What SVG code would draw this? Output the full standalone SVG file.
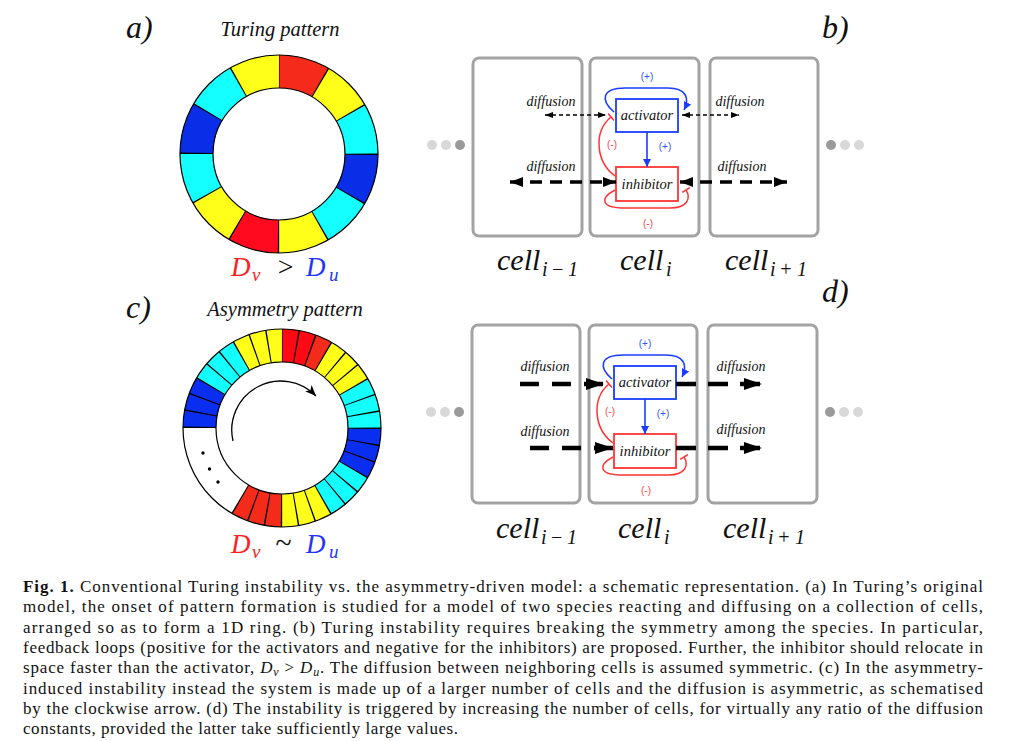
<svg xmlns="http://www.w3.org/2000/svg" width="1024" height="741" viewBox="0 0 1024 741">
<style>
.it{font-family:"Liberation Serif",serif;font-style:italic;fill:#111}
.pl{font-size:32px}
.ttl{font-size:20.5px;text-anchor:middle}
.seg{fill:none;stroke-width:33}
.ol{fill:none;stroke:#000;stroke-width:1.2}
.cellbox{fill:#fff;stroke:#a3a3a3;stroke-width:3}
.act{fill:#fff;stroke:#1a3cff;stroke-width:1.8}
.inh{fill:#fff;stroke:#ff3535;stroke-width:1.8}
.box{font-size:14.5px;text-anchor:middle}
.diff{font-size:14px;text-anchor:middle}
.cell{font-size:30px}
.sub{font-size:20px}
.sg{font-family:"Liberation Sans",sans-serif;font-size:10px;text-anchor:middle}
.sp{fill:#3355ff}
.sm{fill:#ff4444}
.bl{fill:none;stroke:#1a3cff;stroke-width:1.6}
.rd{fill:none;stroke:#ff3535;stroke-width:1.5}
.thin{fill:none;stroke:#000;stroke-width:1.3;stroke-dasharray:4 3}
.thk{fill:none;stroke:#000;stroke-width:3.5;stroke-dasharray:12 8}
.big{fill:none;stroke:#000;stroke-width:4.5}
.cap{font-family:"Liberation Serif",serif;font-size:17px;fill:#111}
.dl{fill:#d8d8d8}
.dd{fill:#9a9a9a}
</style>
<defs>
<marker id="ahThin" viewBox="0 0 8 6" refX="8" refY="3" markerWidth="8" markerHeight="6" markerUnits="userSpaceOnUse" orient="auto-start-reverse"><path d="M0,0 L8,3 L0,6 Z" fill="#000"/></marker>
<marker id="ahThick" viewBox="0 0 13 10" refX="13" refY="5" markerWidth="13" markerHeight="10" markerUnits="userSpaceOnUse" orient="auto-start-reverse"><path d="M0,0 L13,5 L0,10 Z" fill="#000"/></marker>
<marker id="ahBig" viewBox="0 0 18 12" refX="18" refY="6" markerWidth="18" markerHeight="12" markerUnits="userSpaceOnUse" orient="auto"><path d="M0,0 L18,6 L0,12 Z" fill="#000"/></marker>
<marker id="ahBlue" viewBox="0 0 8 8" refX="8" refY="4" markerWidth="8" markerHeight="8" markerUnits="userSpaceOnUse" orient="auto"><path d="M0,0 L8,4 L0,8 Z" fill="#1a3cff"/></marker>
<marker id="tRed" viewBox="-1 -5 2 10" refX="0" refY="0" markerWidth="2" markerHeight="10" markerUnits="userSpaceOnUse" orient="auto"><path d="M0,-4.5 L0,4.5" stroke="#ff3535" stroke-width="1.6"/></marker>
<marker id="ahCw" viewBox="0 0 11 9" refX="11" refY="4.5" markerWidth="11" markerHeight="9" markerUnits="userSpaceOnUse" orient="auto"><path d="M0,0 L11,4.5 L0,9 L3,4.5 Z" fill="#000"/></marker>
</defs>
<rect width="1024" height="741" fill="#fff"/>

<!-- panel labels and titles -->
<text class="it pl" x="126" y="38">a)</text>
<text class="it pl" x="822" y="38">b)</text>
<text class="it pl" x="126" y="318">c)</text>
<text class="it pl" x="822" y="302">d)</text>
<text class="it ttl" x="280" y="36">Turing pattern</text>
<text class="it ttl" x="285" y="316">Asymmetry pattern</text>

<!-- ring a -->
<g id="ring-a" transform="rotate(-90 279 154)">
<circle class="seg" cx="279" cy="154" r="82.5" stroke="#ffff1a"/>
<circle class="seg" cx="279" cy="154" r="82.5" stroke="#14ffff" stroke-dasharray="129.591 129.591" stroke-dashoffset="-86.394"/>
<circle class="seg" cx="279" cy="154" r="82.5" stroke="#0a2ee8" stroke-dasharray="43.197 215.985" stroke-dashoffset="-129.591"/>
<circle class="seg" cx="279" cy="154" r="82.5" stroke="#f52a1a" stroke-dasharray="43.197 600" stroke-dashoffset="0"/>
<circle class="seg" cx="279" cy="154" r="82.5" stroke="#ff0a1e" stroke-dasharray="43.197 600" stroke-dashoffset="-259.182"/>
<circle class="seg" cx="279" cy="154" r="82.5" stroke="#000" stroke-dasharray="1.2 41.997" stroke-dashoffset="0.6"/>
<circle class="ol" cx="279" cy="154" r="99"/>
<circle class="ol" cx="279" cy="154" r="66"/>
</g>
<text class="it" font-size="27" y="276"><tspan x="231" fill="#ff2020">D</tspan><tspan x="252" y="281" font-size="19" fill="#ff2020">v</tspan><tspan x="276" y="276" font-size="28">&gt;</tspan><tspan x="306" fill="#2233ff">D</tspan><tspan x="329" y="281" font-size="19" fill="#2233ff">u</tspan></text>

<!-- ring c -->
<g id="ring-c" transform="rotate(-90 282 428)">
<circle class="seg" cx="282" cy="428" r="82.5" stroke="#ffff1a"/>
<circle class="seg" cx="282" cy="428" r="82.5" stroke="#fff" stroke-dasharray="100.79 600" stroke-dashoffset="-295.18"/>
<circle class="seg" cx="282" cy="428" r="82.5" stroke="#ff0a14" stroke-dasharray="28.798 600" stroke-dashoffset="0"/>
<circle class="seg" cx="282" cy="428" r="82.5" stroke="#f42a1a" stroke-dasharray="14.399 600" stroke-dashoffset="-28.798"/>
<circle class="seg" cx="282" cy="428" r="82.5" stroke="#f42a1a" stroke-dasharray="43.197 600" stroke-dashoffset="-259.182"/>
<circle class="seg" cx="282" cy="428" r="82.5" stroke="#14ffff" stroke-dasharray="43.197 600" stroke-dashoffset="-86.394"/>
<circle class="seg" cx="282" cy="428" r="82.5" stroke="#14ffff" stroke-dasharray="43.197 600" stroke-dashoffset="-172.788"/>
<circle class="seg" cx="282" cy="428" r="82.5" stroke="#14ffff" stroke-dasharray="43.197 600" stroke-dashoffset="-431.97"/>
<circle class="seg" cx="282" cy="428" r="82.5" stroke="#0a2ef0" stroke-dasharray="43.197 600" stroke-dashoffset="-129.591"/>
<circle class="seg" cx="282" cy="428" r="82.5" stroke="#0a2ef0" stroke-dasharray="43.197 600" stroke-dashoffset="-388.773"/>
<circle class="seg" cx="282" cy="428" r="82.5" stroke="#000" stroke-dasharray="1.2 13.199" stroke-dashoffset="0.6"/>
<circle class="seg" cx="282" cy="428" r="82.5" stroke="#fff" stroke-dasharray="74.875 600" stroke-dashoffset="-308.14"/>
<circle class="ol" cx="282" cy="428" r="99"/>
<circle class="ol" cx="282" cy="428" r="66"/>
</g>
<path d="M233,441 A49,49 0 0 1 316,396" fill="none" stroke="#000" stroke-width="1.3" marker-end="url(#ahCw)"/>
<circle cx="203" cy="453" r="1.7" fill="#000"/>
<circle cx="209.5" cy="469" r="1.7" fill="#000"/>
<circle cx="218" cy="482" r="1.7" fill="#000"/>
<text class="it" font-size="27" y="553"><tspan x="231" fill="#ff2020">D</tspan><tspan x="252" y="558" font-size="19" fill="#ff2020">v</tspan><tspan x="275" y="553" font-size="30">~</tspan><tspan x="306" fill="#2233ff">D</tspan><tspan x="329" y="558" font-size="19" fill="#2233ff">u</tspan></text>

<!-- panel b -->
<g id="b-dots-left"><circle class="dl" cx="432" cy="145" r="5"/><circle class="dl" cx="446" cy="145" r="5"/><circle class="dd" cx="460" cy="145" r="5"/></g>
<g id="b-dots-right"><circle class="dd" cx="831" cy="145" r="5"/><circle class="dl" cx="845" cy="145" r="5"/><circle class="dl" cx="859" cy="145" r="5"/></g>
<g id="b-cell-left"><rect class="cellbox" x="473" y="58" width="109" height="178" rx="6"/>
<text class="it cell" x="497" y="270">cell</text><text class="it sub" y="276"><tspan x="542">i</tspan><tspan x="551">−</tspan><tspan x="568">1</tspan></text></g>
<g id="b-cell-mid"><rect class="cellbox" x="590" y="58" width="109" height="178" rx="6"/>
<text class="it cell" x="620" y="270">cell</text><text class="it sub" x="666" y="276">i</text></g>
<g id="b-cell-right"><rect class="cellbox" x="710" y="58" width="108" height="178" rx="6"/>
<text class="it cell" x="725" y="270">cell</text><text class="it sub" y="276"><tspan x="770">i</tspan><tspan x="779">+</tspan><tspan x="797">1</tspan></text></g>

<g id="b-core">
<g id="b-activator"><rect class="act" x="616" y="99" width="62" height="33"/><text class="it box" x="647" y="120">activator</text></g>
<g id="b-inhibitor"><rect class="inh" x="616" y="167" width="62" height="34"/><text class="it box" x="647" y="189">inhibitor</text></g>
<g id="b-interactions">
<path class="bl" d="M614,112 C600,100 602,88 625,88 L668,88 C686,88 690,98 684,110" marker-end="url(#ahBlue)"/>
<path class="bl" d="M647,132 V167" marker-end="url(#ahBlue)"/>
<path class="rd" d="M615,176 C596,162 593,132 611,117" marker-end="url(#tRed)"/>
<path class="rd" d="M615,190 C600,198 600,208 625,208 L670,208 C688,208 691,198 686,190" marker-end="url(#tRed)"/>
<text class="sg sp" x="647" y="80">(+)</text>
<text class="sg sp" x="665" y="150">(+)</text>
<text class="sg sm" x="612" y="148">(-)</text>
<text class="sg sm" x="648" y="227">(-)</text>
</g>
</g>
<g id="b-diffusion">
<path class="thin" d="M545,115 H606" marker-start="url(#ahThin)" marker-end="url(#ahThin)"/>
<path class="thin" d="M682,115 H739" marker-start="url(#ahThin)" marker-end="url(#ahThin)"/>
<path class="thk" d="M510,182 H616" marker-start="url(#ahThick)" marker-end="url(#ahThick)"/>
<path class="thk" d="M680,182 H787" marker-start="url(#ahThick)" marker-end="url(#ahThick)"/>
<text class="it diff" x="551" y="106">diffusion</text>
<text class="it diff" x="740" y="106">diffusion</text>
<text class="it diff" x="551" y="171">diffusion</text>
<text class="it diff" x="742" y="171">diffusion</text>
</g>

<!-- panel d -->
<g id="d-dots-left"><circle class="dl" cx="431" cy="412" r="5"/><circle class="dl" cx="445" cy="412" r="5"/><circle class="dd" cx="459" cy="412" r="5"/></g>
<g id="d-dots-right"><circle class="dd" cx="830" cy="412" r="5"/><circle class="dl" cx="844" cy="412" r="5"/><circle class="dl" cx="858" cy="412" r="5"/></g>
<g id="d-cell-left"><rect class="cellbox" x="472" y="325" width="108" height="178" rx="6"/>
<text class="it cell" x="496" y="538">cell</text><text class="it sub" y="544"><tspan x="541">i</tspan><tspan x="550">−</tspan><tspan x="567">1</tspan></text></g>
<g id="d-cell-mid"><rect class="cellbox" x="589" y="325" width="108" height="178" rx="6"/>
<text class="it cell" x="618" y="538">cell</text><text class="it sub" x="664" y="544">i</text></g>
<g id="d-cell-right"><rect class="cellbox" x="708" y="325" width="109" height="178" rx="6"/>
<text class="it cell" x="723" y="538">cell</text><text class="it sub" y="544"><tspan x="768">i</tspan><tspan x="777">+</tspan><tspan x="795">1</tspan></text></g>

<g id="d-core" transform="translate(-2 267)">
<g id="d-activator"><rect class="act" x="616" y="99" width="62" height="33"/><text class="it box" x="647" y="120">activator</text></g>
<g id="d-inhibitor"><rect class="inh" x="616" y="167" width="62" height="34"/><text class="it box" x="647" y="189">inhibitor</text></g>
<g id="d-interactions">
<path class="bl" d="M614,112 C600,100 602,88 625,88 L668,88 C686,88 690,98 684,110" marker-end="url(#ahBlue)"/>
<path class="bl" d="M647,132 V167" marker-end="url(#ahBlue)"/>
<path class="rd" d="M615,176 C596,162 593,132 611,117" marker-end="url(#tRed)"/>
<path class="rd" d="M615,190 C600,198 600,208 625,208 L670,208 C688,208 691,198 686,190" marker-end="url(#tRed)"/>
<text class="sg sp" x="647" y="80">(+)</text>
<text class="sg sp" x="665" y="150">(+)</text>
<text class="sg sm" x="612" y="148">(-)</text>
<text class="sg sm" x="648" y="227">(-)</text>
</g>
</g>
<g id="d-diffusion">
<path class="big" stroke-dasharray="19 13" d="M520,384 H604" marker-end="url(#ahBig)"/>
<path class="big" stroke-dasharray="20 12" d="M676,384 H762" marker-end="url(#ahBig)"/>
<path class="big" stroke-dasharray="19 13" d="M530,448 H613" marker-end="url(#ahBig)"/>
<path class="big" stroke-dasharray="20 12" d="M676,448 H762" marker-end="url(#ahBig)"/>
<text class="it diff" x="545" y="371">diffusion</text>
<text class="it diff" x="741" y="371">diffusion</text>
<text class="it diff" x="545" y="436">diffusion</text>
<text class="it diff" x="741" y="434">diffusion</text>
</g>

<!-- caption -->
<g id="caption">
<text class="cap" x="23" y="592" textLength="960"><tspan font-weight="bold">Fig. 1.</tspan> Conventional Turing instability vs. the asymmetry-driven model: a schematic representation. (a) In Turing’s original</text>
<text class="cap" x="23" y="612.3" textLength="960">model, the onset of pattern formation is studied for a model of two species reacting and diffusing on a collection of cells,</text>
<text class="cap" x="23" y="632.6" textLength="960">arranged so as to form a 1D ring. (b) Turing instability requires breaking the symmetry among the species. In particular,</text>
<text class="cap" x="23" y="652.9" textLength="960">feedback loops (positive for the activators and negative for the inhibitors) are proposed. Further, the inhibitor should relocate in</text>
<text class="cap" x="23" y="673.2" textLength="960">space faster than the activator, <tspan font-style="italic">D</tspan><tspan font-style="italic" font-size="12" dy="3">v</tspan><tspan dy="-3"> &gt; </tspan><tspan font-style="italic">D</tspan><tspan font-style="italic" font-size="12" dy="3">u</tspan><tspan dy="-3">. The diffusion between neighboring cells is assumed symmetric. (c) In the asymmetry-</tspan></text>
<text class="cap" x="23" y="693.5" textLength="960">induced instability instead the system is made up of a larger number of cells and the diffusion is asymmetric, as schematised</text>
<text class="cap" x="23" y="713.8" textLength="960">by the clockwise arrow. (d) The instability is triggered by increasing the number of cells, for virtually any ratio of the diffusion</text>
<text class="cap" x="23" y="734.1" textLength="435">constants, provided the latter take sufficiently large values.</text>
</g>
</svg>
